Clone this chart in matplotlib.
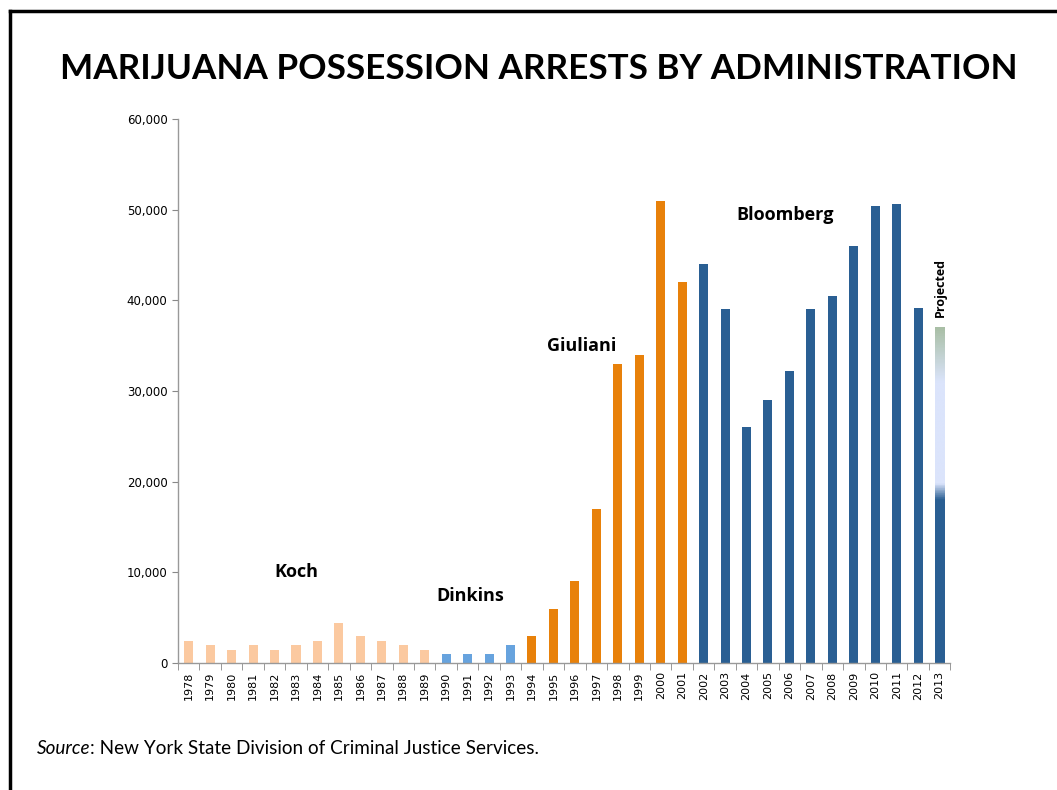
import numpy as np
import matplotlib
matplotlib.use("Agg")
import matplotlib.pyplot as plt
from matplotlib.colors import LinearSegmentedColormap
from matplotlib.lines import Line2D
from matplotlib.ticker import FuncFormatter

years = list(range(1978, 2014))
arrests = [
    2400, 2000, 1400, 2000, 1400, 2000, 2400, 4400, 3000, 2400, 2000, 1400,  # Koch
    1000, 1000, 1000, 2000,                                                 # Dinkins
    3000, 6000, 9000, 17000, 33000, 34000, 51000, 42000,                    # Giuliani
    44000, 39000, 26000, 29000, 32200, 39000, 40500, 46000, 50400, 50600, 39100,  # Bloomberg
    37000,                                                                  # 2013 projected
]
mayors = ["Koch"] * 12 + ["Dinkins"] * 4 + ["Giuliani"] * 8 + ["Bloomberg"] * 12
known_2013 = 18000

mayor_colors = {
    "Koch": "#fbc9a0",
    "Dinkins": "#67a3de",
    "Giuliani": "#e8810a",
    "Bloomberg": "#2a5f93",
}
mayor_labels = [
    ("Koch", 5, 10000),
    ("Dinkins", 13.1, 7400),
    ("Giuliani", 18.3, 35000),
    ("Bloomberg", 27.8, 49400),
]

fig = plt.figure(figsize=(10.57, 7.9), dpi=100)
ax = fig.add_axes([0.1684, 0.1608, 0.7307, 0.6886])

x = np.arange(len(years))
width = 0.42
colors = [mayor_colors[m] for m in mayors]
ax.bar(x[:-1], arrests[:-1], width=width, color=colors[:-1], zorder=2)

# projected 2013 bar: solid part, then fading gradient
last = x[-1]
proj = arrests[-1]
grad_cmap = LinearSegmentedColormap.from_list(
    "proj",
    [(0.0, "#2a5f93"), (known_2013 / proj, "#2a5f93"),
     ((known_2013 + 1800) / proj, "#dbe4fb"), (31000 / proj, "#dbe4fb"),
     (1.0, "#a9bfa6")],
)
grad = np.linspace(0, 1, 400).reshape(-1, 1)
ax.imshow(grad, cmap=grad_cmap, aspect="auto", origin="lower",
          extent=[last - width / 2, last + width / 2, 0, proj], zorder=2,
          interpolation="bilinear")
ax.text(last + 0.05, proj + 1200, "Projected", rotation=90, ha="center", va="bottom",
        fontsize=9, fontweight="bold", family="Open Sans")

for name, xpos, ypos in mayor_labels:
    ax.text(xpos, ypos, name, ha="center", va="center", fontsize=13,
            fontweight="bold", family="Open Sans")

ax.set_xlim(-0.5, len(years) - 0.5)
ax.set_ylim(0, 60000)
ax.set_yticks(range(0, 60001, 10000))
ax.yaxis.set_major_formatter(FuncFormatter(lambda v, p: f"{int(v):,}"))
ax.set_xticks(x)
ax.set_xticklabels([str(y) for y in years], rotation=90, fontsize=8)
ax.set_xticks(np.arange(-0.5, len(years), 1), minor=True)
ax.tick_params(axis="x", which="major", length=0, pad=6)
ax.tick_params(axis="x", which="minor", length=5, color="#888888", direction="out")
ax.tick_params(axis="y", labelsize=8.5, length=4, color="#888888", direction="out")

for side in ["top", "right"]:
    ax.spines[side].set_visible(False)
for side in ["left", "bottom"]:
    ax.spines[side].set_color("#999999")
    ax.spines[side].set_linewidth(1)

fig.text(0.51, 0.913, "MARIJUANA POSSESSION ARRESTS BY ADMINISTRATION",
         ha="center", va="center", fontsize=25.3, fontweight="bold", family="Lato")

# source line: italic "Source" followed by regular text
src = fig.text(0.035, 0.046, "Source", style="italic", fontsize=13.6, family="Lato",
               ha="left", va="baseline")
fig.canvas.draw()
bb = src.get_window_extent()
fig.text(bb.x1 / fig.bbox.width, 0.046, ": New York State Division of Criminal Justice Services.",
         fontsize=13.6, family="Lato", ha="left", va="baseline")

# slide frame (top and left edges)
fig.add_artist(Line2D([0.0095, 0.0095], [0, 0.986], color="black", lw=2.5,
                      transform=fig.transFigure))
fig.add_artist(Line2D([0.0095, 1], [0.986, 0.986], color="black", lw=2.5,
                      transform=fig.transFigure))

fig.savefig("out.png", dpi=100)
